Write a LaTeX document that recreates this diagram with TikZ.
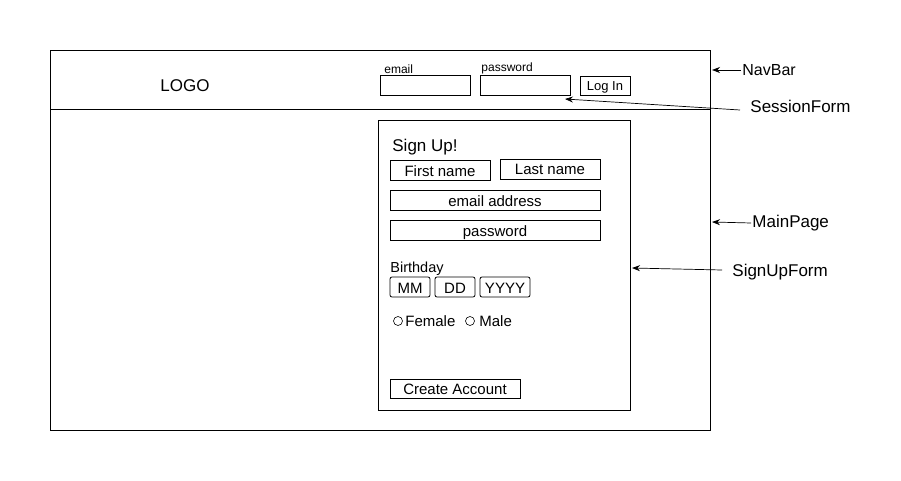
\documentclass[tikz,border=0pt]{standalone}
\usepackage{fontspec}
\setmainfont{Liberation Sans}
\usetikzlibrary{arrows.meta}

\begin{document}
\begin{tikzpicture}[x=1pt,y=-1pt,line width=0.8pt,
    frame/.style={draw, inner sep=0pt, outer sep=0pt},
    field/.style={draw, inner sep=0pt, outer sep=0pt, minimum height=20pt, text height=13pt, text depth=1pt, font=\fontsize{15}{17}\selectfont},
    datebox/.style={field, rounded corners=2pt},
    caption/.style={anchor=west, inner sep=1pt, font=\fontsize{17}{19}\selectfont},
    tag/.style={anchor=west, inner sep=1pt, font=\fontsize{12}{14}\selectfont},
    pointer/.style={-{Stealth[length=8pt,width=6pt]}, line width=0.7pt}]
    \useasboundingbox (0,0) rectangle (901,481);
    % page and navbar
    \node[frame, minimum width=660pt, minimum height=59pt] (navbar) at (380,79.5) {};
    \node[frame, minimum width=660pt, minimum height=321pt] (mainpage) at (380,269.5) {};
    \node[caption, anchor=center] (logo) at (185,86) {LOGO};
    % session form
    \node[field, minimum width=90pt] (sessemail) at (425,85.5) {};
    \node[field, minimum width=90pt] (sesspass) at (525,85.5) {};
    \node[field, minimum width=50pt, minimum height=19pt, text height=12pt, font=\fontsize{13}{15}\selectfont] (login) at (605,85.5) {Log In};
    \node[tag, anchor=south west] at ([xshift=3pt]sessemail.north west) {email};
    \node[tag, anchor=south west] at (sesspass.north west) {password};
    % sign up form
    \node[frame, minimum width=252pt, minimum height=290pt] (signup) at (504,265) {};
    \node[caption] (signuptitle) at (391,147) {Sign Up!};
    \node[field, minimum width=100pt] (firstname) at (440,170) {First name};
    \node[field, minimum width=100pt] (lastname) at (550,169) {Last name};
    \node[field, minimum width=210pt] (emailaddr) at (495,200) {email address};
    \node[field, minimum width=210pt] (password) at (495,230) {password};
    \node[tag, font=\fontsize{14.5}{16}\selectfont] (birthday) at (389,268.5) {Birthday};
    \node[datebox, minimum width=40pt] (month) at (410,287) {MM};
    \node[datebox, minimum width=40pt] (day) at (455,287) {DD};
    \node[datebox, minimum width=50pt] (year) at (505,287) {YYYY};
    \node[circle, draw, line width=0.6pt, minimum size=9pt, inner sep=0pt] (femaleradio) at (398,321) {};
    \node[tag, font=\fontsize{15}{17}\selectfont, inner sep=0pt] (female) at (405,321) {Female};
    \node[circle, draw, line width=0.6pt, minimum size=9pt, inner sep=0pt] (maleradio) at (470,321) {};
    \node[tag, font=\fontsize{15}{17}\selectfont, inner sep=0pt] (male) at (479,321) {Male};
    \node[field, minimum width=130pt, minimum height=19pt] (create) at (455,388.5) {Create Account};
    % annotations
    \node[caption, font=\fontsize{16}{18}\selectfont] (navlabel) at (741,70) {NavBar};
    \node[caption] (sesslabel) at (749,106) {SessionForm};
    \node[caption] (mainlabel) at (751,223) {MainPage};
    \node[caption] (signuplabel) at (731,272.5) {SignUpForm};
    \coordinate (navtip) at (712,70);
    \coordinate (sesstip) at (565,99);
    \coordinate (maintip) at (712,222);
    \coordinate (signuptip) at (632,268);
    \draw[pointer] (navlabel.west) -- (navtip);
    \draw[pointer] (740,110) -- (sesstip);
    \draw[pointer] (mainlabel.west) -- (maintip);
    \draw[pointer] (722,270) -- (signuptip);
\end{tikzpicture}
\end{document}
